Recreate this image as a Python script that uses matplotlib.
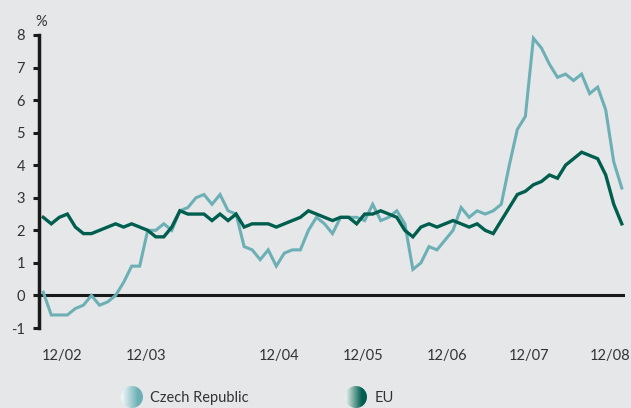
import numpy as np
import matplotlib
matplotlib.use("Agg")
import matplotlib.pyplot as plt
from matplotlib.patches import Circle

# Monthly data, 12/2002 .. 12/2008
czech = [0.1, -0.6, -0.6, -0.6, -0.4, -0.3, 0.0, -0.3, -0.2, 0.0, 0.4, 0.9, 0.9,
         2.0, 2.0, 2.2, 2.0, 2.6, 2.7, 3.0, 3.1, 2.8, 3.1, 2.6, 2.5,
         1.5, 1.4, 1.1, 1.4, 0.9, 1.3, 1.4, 1.4, 2.0, 2.4, 2.2, 1.9,
         2.4, 2.4, 2.4, 2.3, 2.8, 2.3, 2.4, 2.6, 2.2, 0.8, 1.0, 1.5,
         1.4, 1.7, 2.0, 2.7, 2.4, 2.6, 2.5, 2.6, 2.8, 4.0, 5.1, 5.5,
         7.9, 7.6, 7.1, 6.7, 6.8, 6.6, 6.8, 6.2, 6.4, 5.7, 4.1, 3.3]
eu = [2.4, 2.2, 2.4, 2.5, 2.1, 1.9, 1.9, 2.0, 2.1, 2.2, 2.1, 2.2, 2.1,
      2.0, 1.8, 1.8, 2.1, 2.6, 2.5, 2.5, 2.5, 2.3, 2.5, 2.3, 2.5,
      2.1, 2.2, 2.2, 2.2, 2.1, 2.2, 2.3, 2.4, 2.6, 2.5, 2.4, 2.3,
      2.4, 2.4, 2.2, 2.5, 2.5, 2.6, 2.5, 2.4, 2.0, 1.8, 2.1, 2.2,
      2.1, 2.2, 2.3, 2.2, 2.1, 2.2, 2.0, 1.9, 2.3, 2.7, 3.1, 3.2,
      3.4, 3.5, 3.7, 3.6, 4.0, 4.2, 4.4, 4.3, 4.2, 3.7, 2.8, 2.2]
tick_labels = ["12/02", "12/03", "12/04", "12/05", "12/06", "12/07", "12/08"]
tick_pos = [2.3, 12.8, 29.4, 39.8, 50.2, 60.5, 70.5]
series_names = ["Czech Republic", "EU"]

bg = "#e6e7e9"
c_cz = "#6cb0b6"
c_eu = "#005e4e"
txt = "#333333"

plt.rcParams['font.family'] = ['Lato', 'DejaVu Sans']

fig = plt.figure(figsize=(6.31, 4.08), dpi=100, facecolor=bg)
ax = fig.add_axes([39/631, 80/408, (625-39)/631, 293/408])
ax.set_facecolor(bg)

x = np.arange(len(czech))
ax.plot(x, czech, color=c_cz, lw=2.2, solid_joinstyle='miter', zorder=3)
ax.plot(x, eu, color=c_eu, lw=2.4, solid_joinstyle='miter', zorder=4)
ax.axhline(0, color="#1a1a1a", lw=2.2, zorder=2)

ax.set_xlim(-0.53, 72.4)
ax.set_ylim(-1, 8)
ax.set_yticks(range(-1, 9))
ax.set_yticklabels([str(v) for v in range(-1, 9)])
ax.set_xticks(tick_pos)
ax.set_xticklabels(tick_labels)
ax.tick_params(axis='x', length=0, pad=15, labelsize=10.5, labelcolor=txt)
ax.tick_params(axis='y', direction='out', length=4, width=2.2, color="#1a1a1a",
               pad=6, labelsize=10.5, labelcolor=txt)
for s in ['top', 'right', 'bottom']:
    ax.spines[s].set_visible(False)
ax.spines['left'].set_linewidth(2.5)
ax.spines['left'].set_color("#1a1a1a")

fig.text(35/631, 1 - 22/408, "%", fontsize=10.5, color=txt, va='center', ha='left')

# Legend with gradient circles
def grad_circle(cx, cy, r, color):
    lax = fig.add_axes([(cx - r - 1)/631, 1 - (cy + r + 1)/408, (2*r + 2)/631, (2*r + 2)/408])
    lax.set_axis_off()
    lax.set_xlim(0, 1); lax.set_ylim(0, 1)
    rgb = np.array(matplotlib.colors.to_rgb(color))
    t = np.linspace(0, 1, 64)
    w = np.clip((t - 0.0) / 0.75, 0, 1)[:, None]
    cols = (1 - w) * np.array([1, 1, 1]) + w * rgb
    img = np.tile(cols[None, :, :], (8, 1, 1))
    im = lax.imshow(img, extent=[0, 1, 0, 1], aspect='auto')
    circ = Circle((0.5, 0.5), 0.5 * r/(r+1), transform=lax.transData)
    im.set_clip_path(circ)

grad_circle(132, 397, 11, c_cz)
grad_circle(356, 397, 11, c_eu)
fig.text(150/631, 1 - 398/408, series_names[0], fontsize=10.5, color=txt, va='center', ha='left')
fig.text(375/631, 1 - 398/408, series_names[1], fontsize=10.5, color=txt, va='center', ha='left')

fig.savefig("out.png", dpi=100, facecolor=bg)
